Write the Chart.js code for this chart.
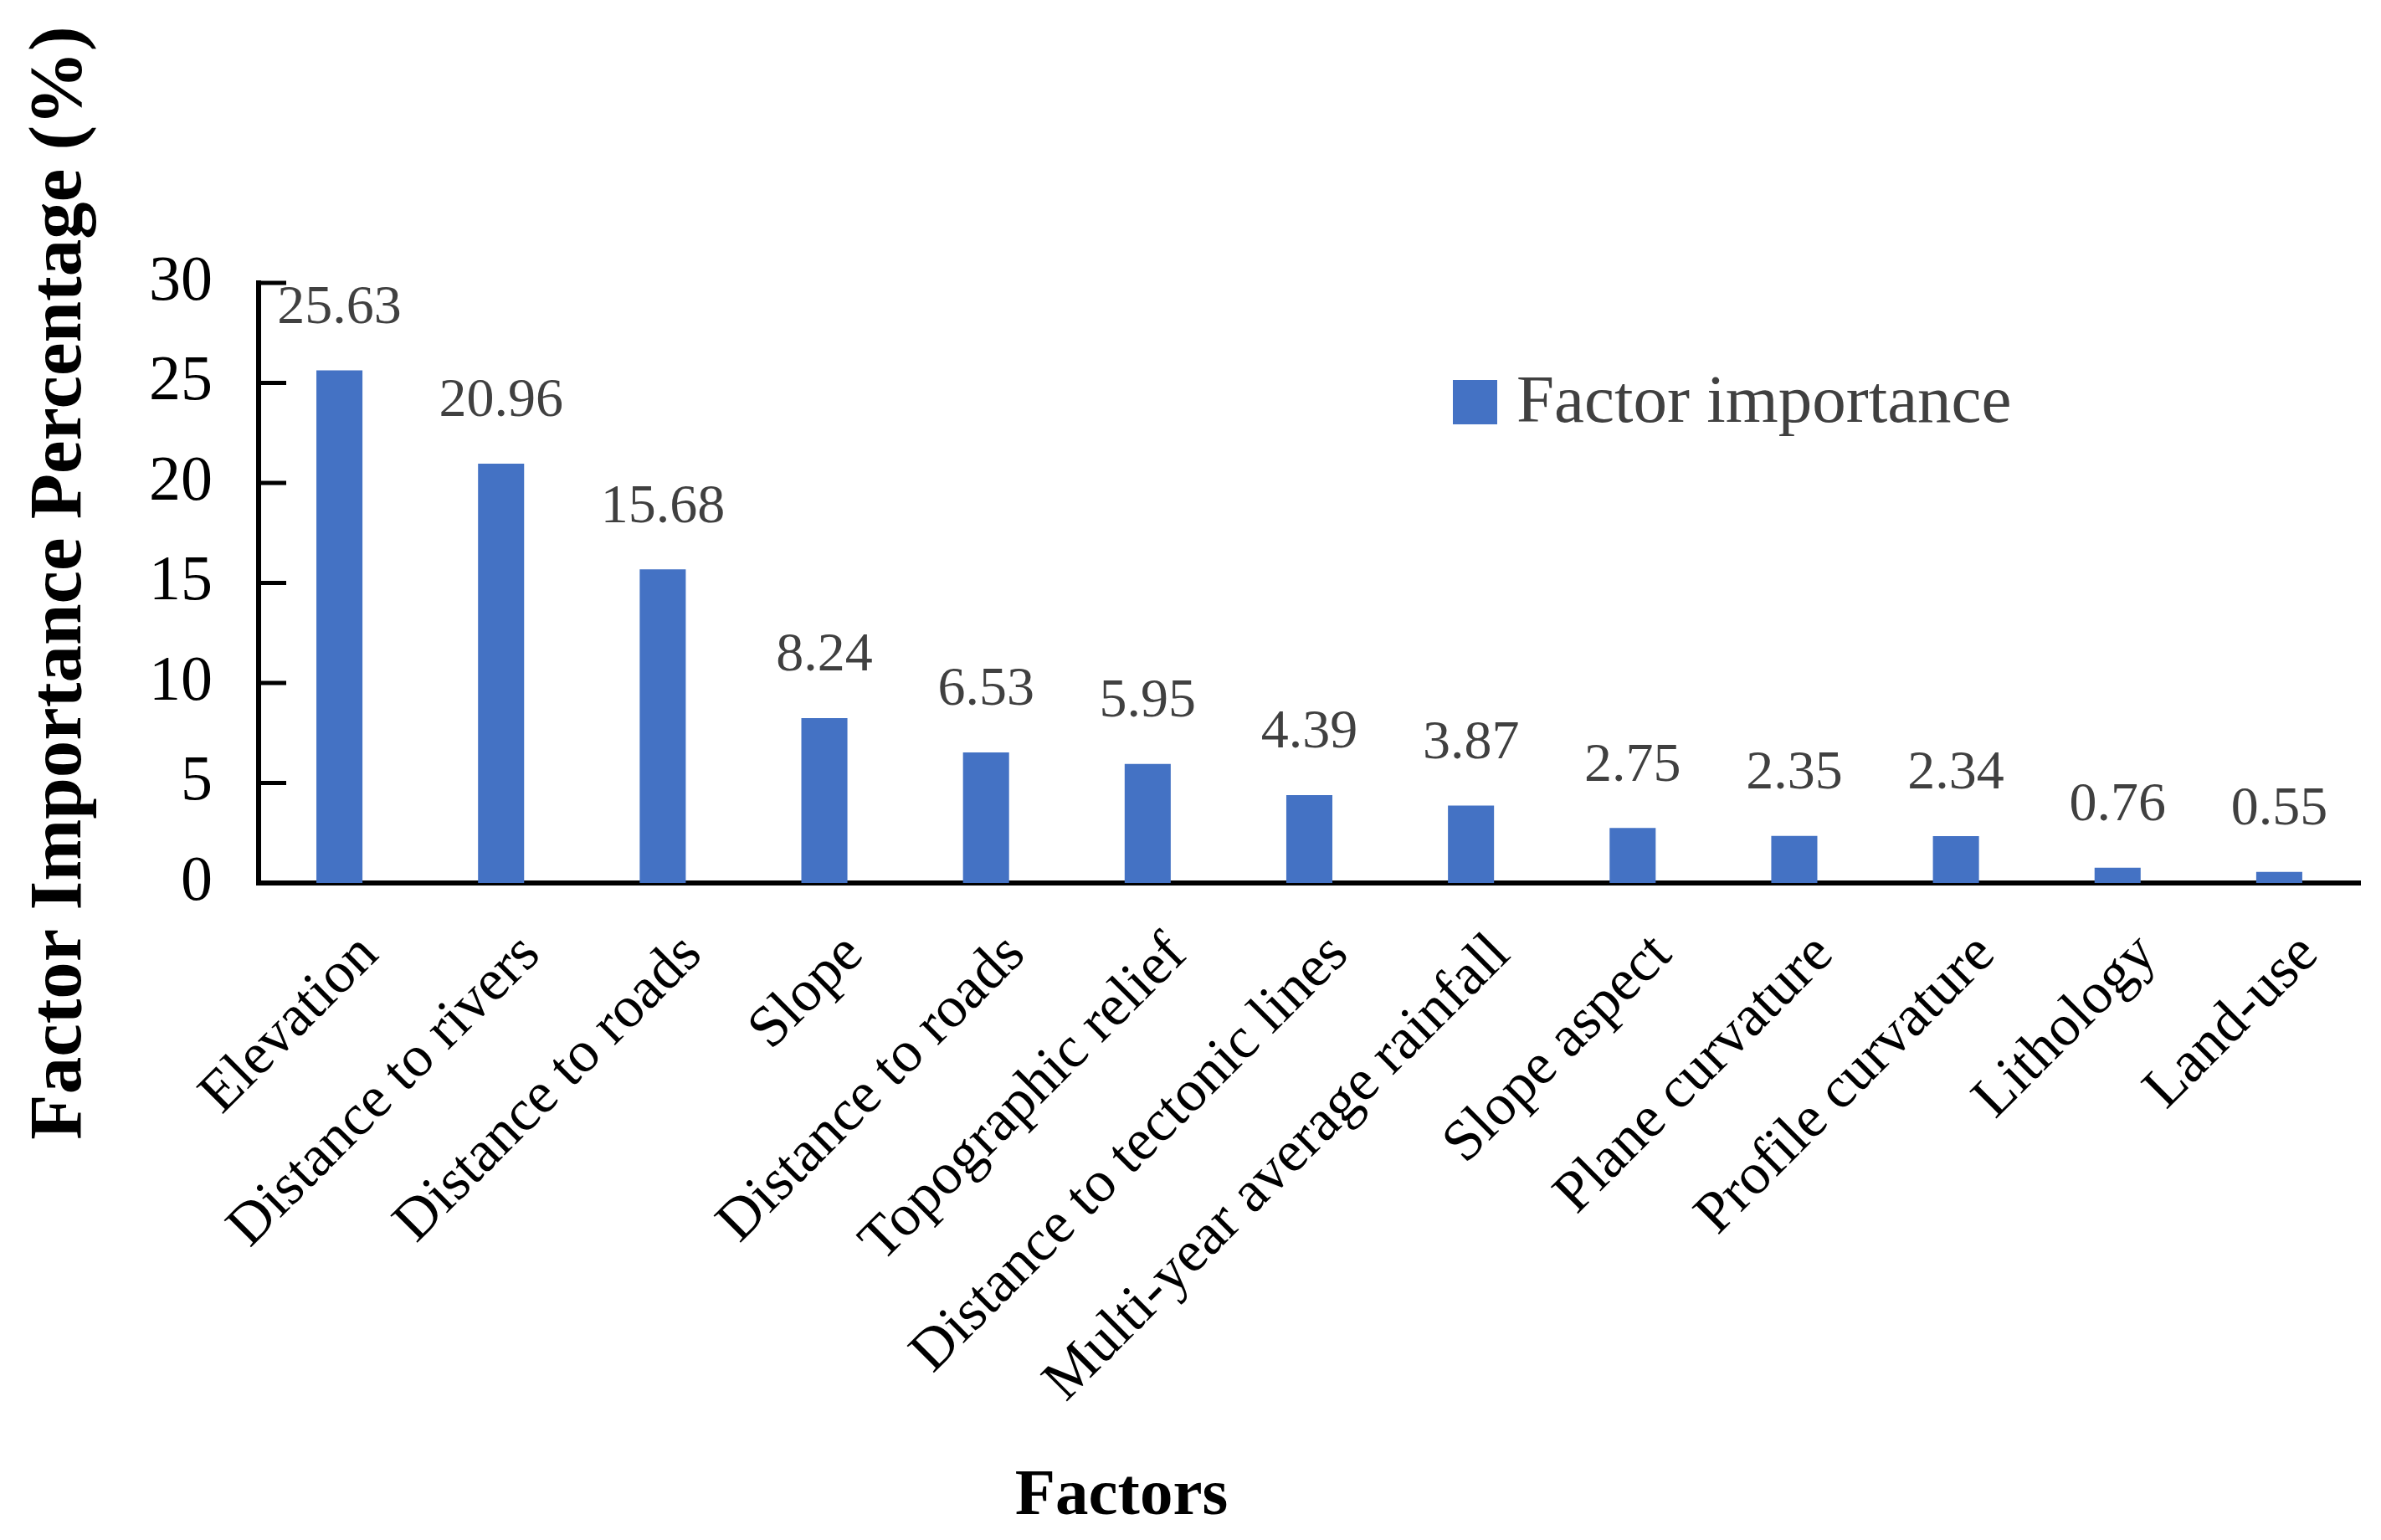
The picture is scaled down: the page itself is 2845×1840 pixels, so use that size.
<!DOCTYPE html>
<html>
<head>
<meta charset="utf-8">
<script src="https://cdn.jsdelivr.net/npm/chart.js@4.4.1/dist/chart.umd.min.js"></script>
<style>
    html, body { margin: 0; padding: 0; background: #ffffff; }
    #grafico { display: block; width: 2845px; height: 1840px; }
</style>
</head>
<body>
<canvas id="grafico" width="2845" height="1840"></canvas>
<script>
// dados
const fatores = [
    'Elevation', 'Distance to rivers', 'Distance to roads', 'Slope', 'Distance to roads',
    'Topographic relief', 'Distance to tectonic lines', 'Multi-year average rainfall',
    'Slope aspect', 'Plane curvature', 'Profile curvature', 'Lithology', 'Land-use'
];
const importancia = [25.63, 20.96, 15.68, 8.24, 6.53, 5.95, 4.39, 3.87, 2.75, 2.35, 2.34, 0.76, 0.55];
const ticksY = [0, 5, 10, 15, 20, 25, 30];

const serif = "'Liberation Serif', 'Times New Roman', serif";

// valores em cima das barras
const rotulosValores = {
    id: 'rotulosValores',
    afterDatasetsDraw(chart) {
        const ctx = chart.ctx;
        const meta = chart.getDatasetMeta(0);
        ctx.save();
        ctx.font = '66px ' + serif;
        ctx.fillStyle = '#404040';
        ctx.textAlign = 'center';
        ctx.textBaseline = 'middle';
        meta.data.forEach((barra, i) => {
            ctx.fillText(importancia[i].toFixed(2), barra.x, barra.y - 74);
        });
        ctx.restore();
    }
};

// ticks do eixo y para dentro, legenda e titulo do eixo x
const extras = {
    id: 'extras',
    afterDraw(chart) {
        const ctx = chart.ctx;
        const y = chart.scales.y;
        const area = chart.chartArea;
        ctx.save();
        ctx.strokeStyle = '#000000';
        ctx.lineWidth = 5;
        ticksY.forEach(v => {
            if (v === 0) return;
            const py = y.getPixelForValue(v);
            ctx.beginPath();
            ctx.moveTo(area.left, py);
            ctx.lineTo(area.left + 33, py);
            ctx.stroke();
        });

        const ds = chart.data.datasets[0];
        ctx.fillStyle = ds.backgroundColor;
        ctx.fillRect(1736, 454, 53, 53);
        ctx.font = '81px ' + serif;
        ctx.fillStyle = '#404040';
        ctx.textAlign = 'left';
        ctx.textBaseline = 'middle';
        ctx.fillText(ds.label, 1812, 483);

        ctx.font = 'bold 79px ' + serif;
        ctx.fillStyle = '#000000';
        ctx.textAlign = 'center';
        ctx.fillText('Factors', 1340, 1789);
        ctx.restore();
    }
};

const ctx = document.getElementById('grafico').getContext('2d');
const grafico = new Chart(ctx, {
    type: 'bar',
    data: {
        labels: fatores,
        datasets: [
            {
                label: 'Factor importance',
                data: importancia,
                backgroundColor: '#4472C4',
                categoryPercentage: 1,
                barPercentage: 0.285
            }
        ]
    },
    options: {
        responsive: false,
        devicePixelRatio: 1,
        animation: false,
        layout: {
            padding: { left: 0, top: 338, right: 25, bottom: 0 }
        },
        plugins: {
            legend: { display: false },
            tooltip: { enabled: false }
        },
        scales: {
            x: {
                z: 1,
                grid: { display: false, drawTicks: false },
                border: { display: true, color: '#000000', width: 6 },
                ticks: {
                    color: '#000000',
                    font: { family: serif, size: 70, lineHeight: 1.2 },
                    minRotation: 45,
                    maxRotation: 45,
                    autoSkip: false,
                    padding: 45,
                    labelOffset: 36
                },
                afterFit(scale) { scale.height = 785; }
            },
            y: {
                min: 0,
                max: 30,
                grid: { display: false, drawTicks: false },
                border: { display: true, color: '#000000', width: 6 },
                ticks: {
                    color: '#000000',
                    font: { family: serif, size: 76 },
                    padding: 55
                },
                afterBuildTicks(scale) {
                    scale.ticks = ticksY.map(v => ({ value: v }));
                },
                title: {
                    display: true,
                    text: 'Factor Importance Percentage (%)',
                    color: '#000000',
                    font: { family: serif, size: 89, weight: 'bold' },
                    padding: { top: 20, bottom: 0 }
                },
                afterFit(scale) { scale.width = 309; }
            }
        }
    },
    plugins: [rotulosValores, extras]
});
</script>
</body>
</html>
